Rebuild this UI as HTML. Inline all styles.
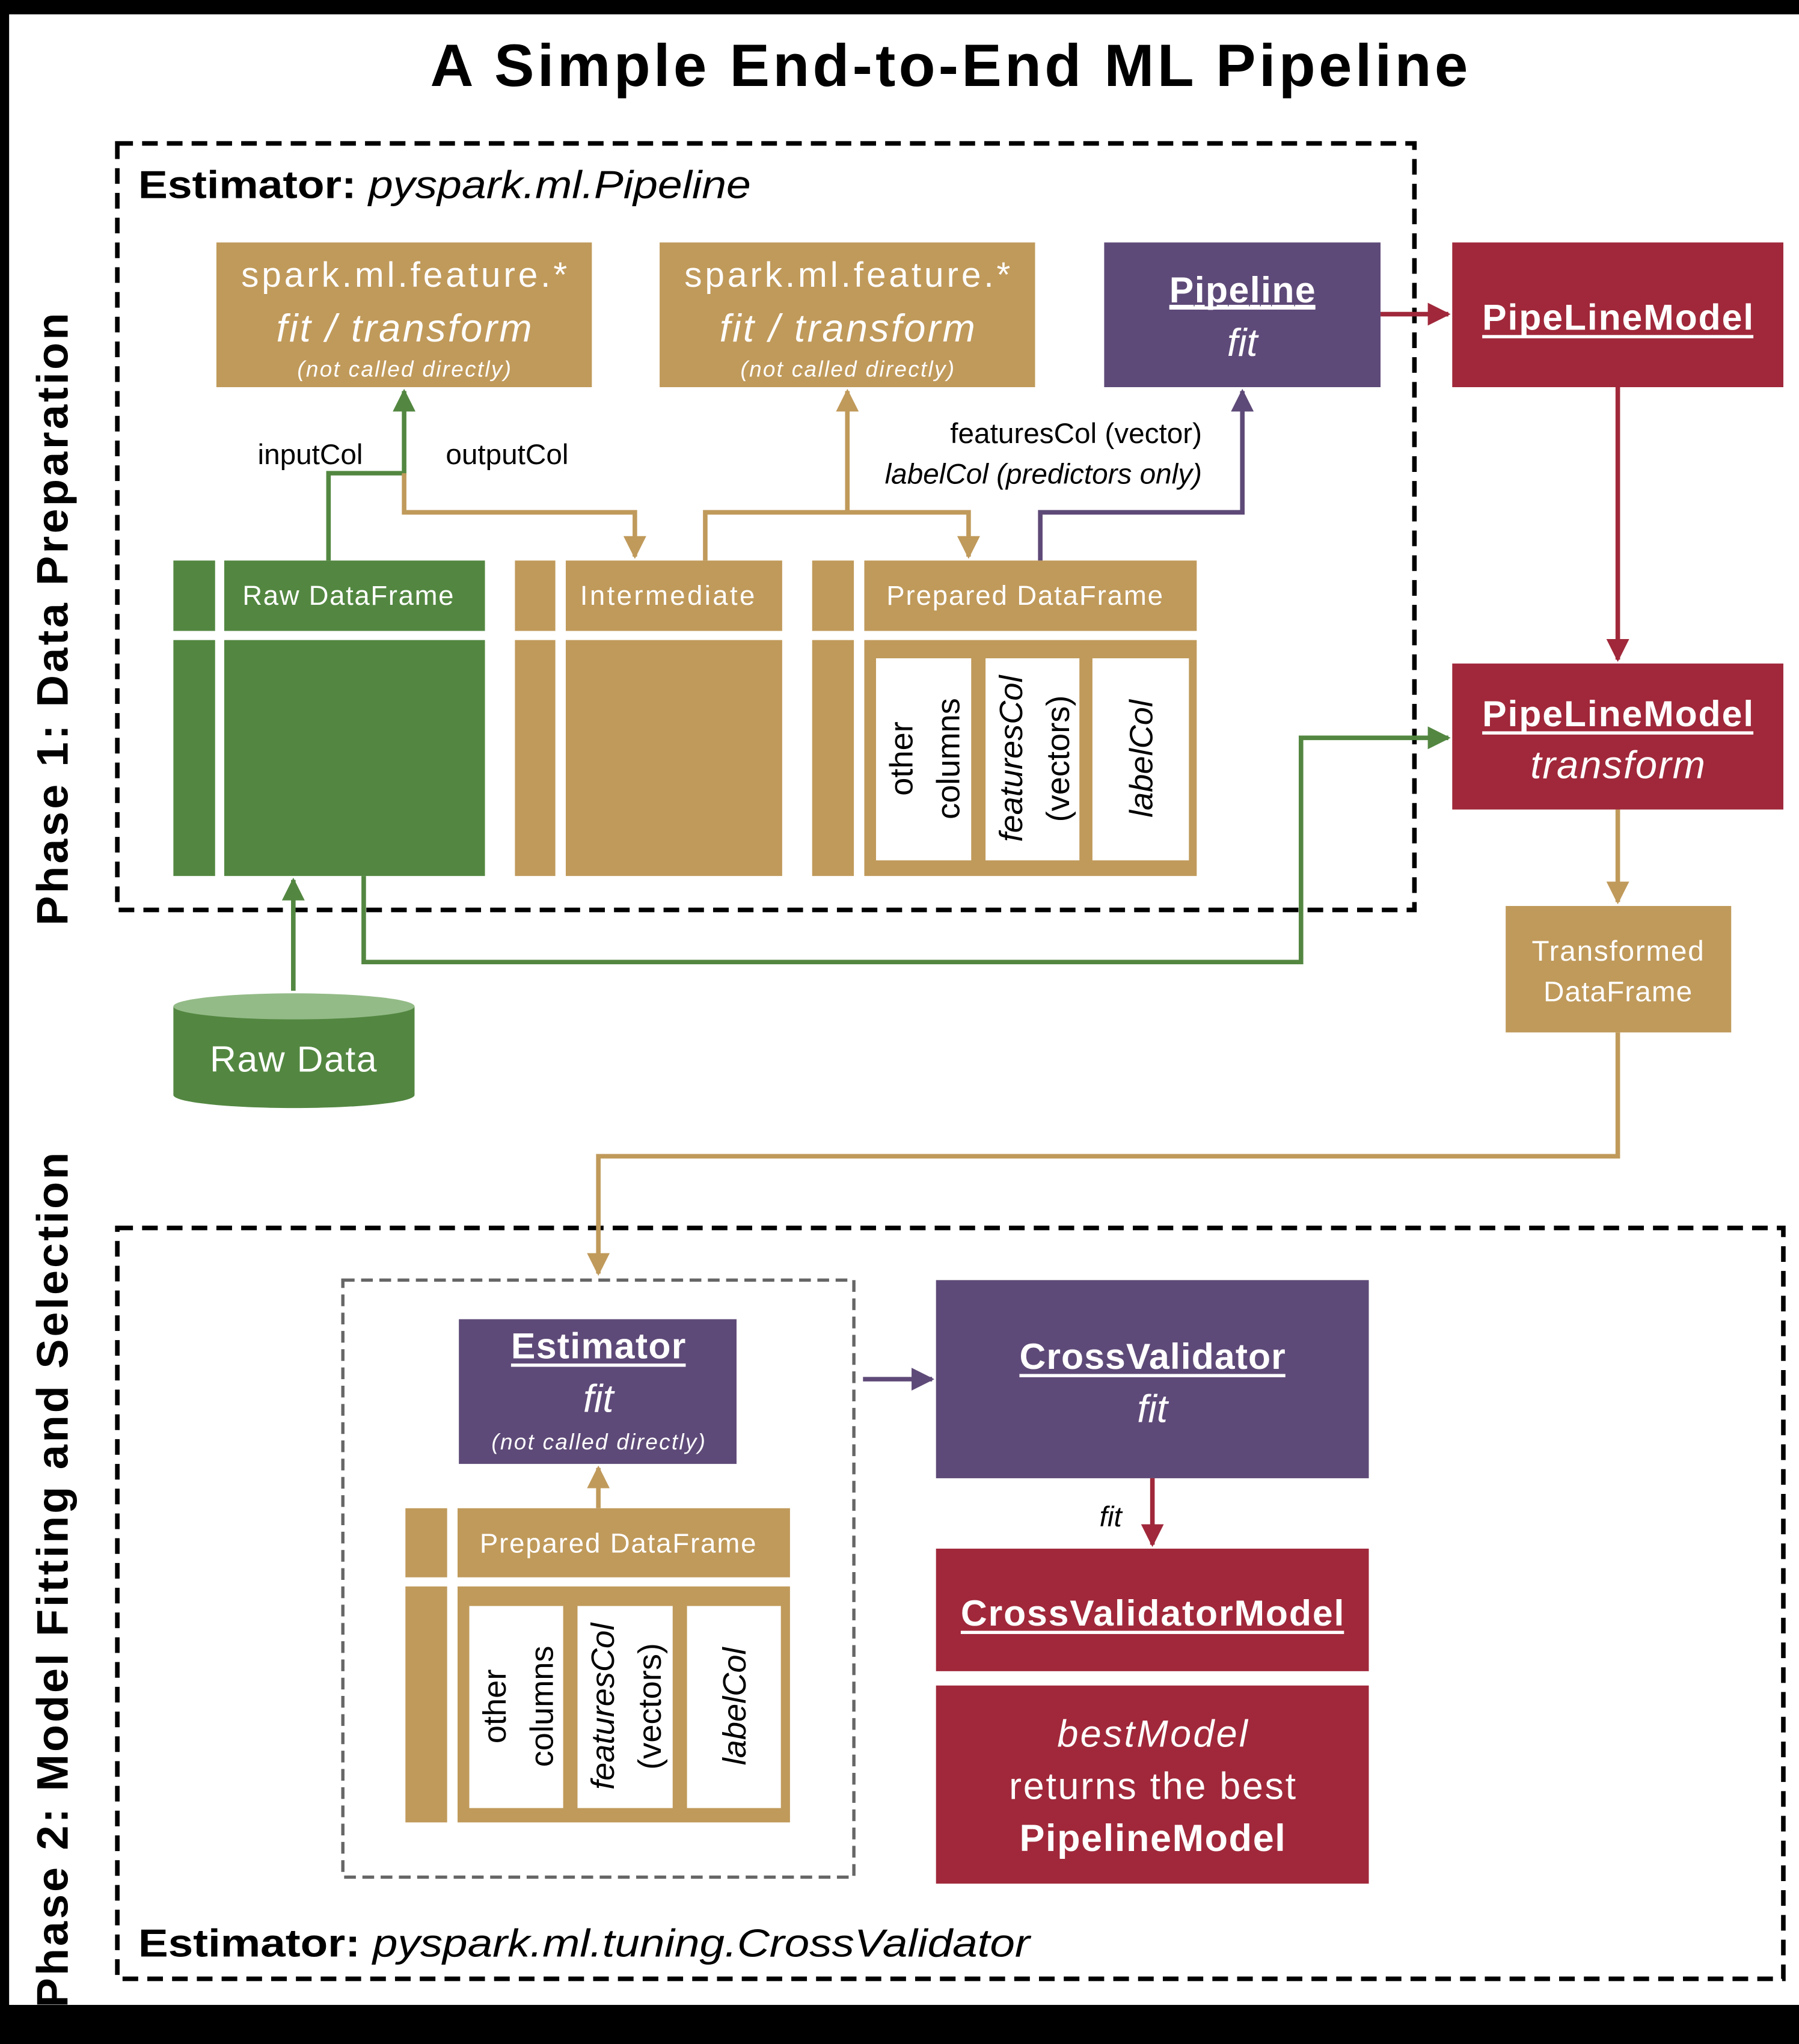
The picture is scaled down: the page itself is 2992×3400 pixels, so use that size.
<!DOCTYPE html>
<html><head><meta charset="utf-8"><style>
html,body{margin:0;padding:0;background:#fff}
svg{display:block}
text{font-family:"Liberation Sans",sans-serif}
.w{fill:#fff}
.c{text-anchor:middle}
</style></head><body>
<svg width="2992" height="3400" viewBox="0 0 1380 1568" preserveAspectRatio="none" xmlns="http://www.w3.org/2000/svg">
<defs>
<marker id="ag" markerWidth="5" markerHeight="5" refX="4.5" refY="2.5" orient="auto" markerUnits="strokeWidth"><path d="M0,0L5,2.5L0,5z" fill="#538741"/></marker>
<marker id="at" markerWidth="5" markerHeight="5" refX="4.5" refY="2.5" orient="auto" markerUnits="strokeWidth"><path d="M0,0L5,2.5L0,5z" fill="#C09A5B"/></marker>
<marker id="ap" markerWidth="5" markerHeight="5" refX="4.5" refY="2.5" orient="auto" markerUnits="strokeWidth"><path d="M0,0L5,2.5L0,5z" fill="#5E4A78"/></marker>
<marker id="ar" markerWidth="5" markerHeight="5" refX="4.5" refY="2.5" orient="auto" markerUnits="strokeWidth"><path d="M0,0L5,2.5L0,5z" fill="#A0283A"/></marker>
</defs>
<rect x="0" y="0" width="1380" height="1568" fill="#fff"/>
<rect x="0" y="0" width="1380" height="11" fill="#000"/>
<rect x="0" y="0" width="7" height="1568" fill="#000"/>
<rect x="0" y="1538" width="1380" height="30" fill="#000"/>

<text x="728" y="66" class="c" font-size="46" font-weight="bold" textLength="796">A Simple End-to-End ML Pipeline</text>

<text transform="translate(52,475) rotate(-90)" class="c" font-size="34" font-weight="bold" textLength="470">Phase 1: Data Preparation</text>
<text transform="translate(52,1212) rotate(-90)" class="c" font-size="34" font-weight="bold" textLength="656">Phase 2: Model Fitting and Selection</text>

<rect x="90" y="110" width="995" height="588" fill="none" stroke="#000" stroke-width="3.5" stroke-dasharray="12,7"/>
<text x="106" y="152" font-size="30" textLength="470" lengthAdjust="spacingAndGlyphs"><tspan font-weight="bold">Estimator: </tspan><tspan font-style="italic">pyspark.ml.Pipeline</tspan></text>

<rect x="90" y="942" width="1278" height="576" fill="none" stroke="#000" stroke-width="3.5" stroke-dasharray="12,7"/>
<text x="106" y="1501" font-size="30" textLength="684" lengthAdjust="spacingAndGlyphs"><tspan font-weight="bold">Estimator: </tspan><tspan font-style="italic">pyspark.ml.tuning.CrossValidator</tspan></text>

<rect x="166" y="186" width="288" height="111" fill="#C09A5B"/>
<text x="310" y="220" class="c w" font-size="27" textLength="250">spark.ml.feature.*</text>
<text x="310" y="262" class="c w" font-size="30" font-style="italic" textLength="196">fit / transform</text>
<text x="310" y="289" class="c w" font-size="17" font-style="italic" textLength="164">(not called directly)</text>
<rect x="506" y="186" width="288" height="111" fill="#C09A5B"/>
<text x="650" y="220" class="c w" font-size="27" textLength="250">spark.ml.feature.*</text>
<text x="650" y="262" class="c w" font-size="30" font-style="italic" textLength="196">fit / transform</text>
<text x="650" y="289" class="c w" font-size="17" font-style="italic" textLength="164">(not called directly)</text>

<rect x="847" y="186" width="212" height="111" fill="#5E4A78"/>
<text x="953" y="232" class="c w" font-size="28" font-weight="bold" text-decoration="underline" textLength="112">Pipeline</text>
<rect x="897" y="235" width="112" height="2.5" fill="#fff"/>
<text x="953" y="273" class="c w" font-size="30" font-style="italic">fit</text>

<rect x="1114" y="186" width="254" height="111" fill="#A0283A"/>
<text x="1241" y="253" class="c w" font-size="28" font-weight="bold" textLength="208">PipeLineModel</text>
<rect x="1137" y="257" width="208" height="2.5" fill="#fff"/>

<rect x="1114" y="509" width="254" height="112" fill="#A0283A"/>
<text x="1241" y="557" class="c w" font-size="28" font-weight="bold" textLength="208">PipeLineModel</text>
<rect x="1137" y="561" width="208" height="2.5" fill="#fff"/>
<text x="1241" y="597" class="c w" font-size="30" font-style="italic" textLength="134">transform</text>

<rect x="1155" y="695" width="173" height="97" fill="#C09A5B"/>
<text x="1241" y="737" class="c w" font-size="22" textLength="132">Transformed</text>
<text x="1241" y="768" class="c w" font-size="22" textLength="114">DataFrame</text>

<rect x="133" y="430" width="32" height="54" fill="#538741"/>
<rect x="133" y="491" width="32" height="181" fill="#538741"/>
<rect x="172" y="430" width="200" height="54" fill="#538741"/>
<rect x="172" y="491" width="200" height="181" fill="#538741"/>
<text x="267" y="464" class="c w" font-size="21" textLength="162">Raw DataFrame</text>

<rect x="395" y="430" width="31" height="54" fill="#C09A5B"/>
<rect x="395" y="491" width="31" height="181" fill="#C09A5B"/>
<rect x="434" y="430" width="166" height="54" fill="#C09A5B"/>
<rect x="434" y="491" width="166" height="181" fill="#C09A5B"/>
<text x="512" y="464" class="c w" font-size="21" textLength="134">Intermediate</text>

<rect x="623" y="430" width="32" height="54" fill="#C09A5B"/>
<rect x="623" y="491" width="32" height="181" fill="#C09A5B"/>
<rect x="663" y="430" width="255" height="54" fill="#C09A5B"/>
<rect x="663" y="491" width="255" height="181" fill="#C09A5B"/>
<text x="786" y="464" class="c w" font-size="21" textLength="212">Prepared DataFrame</text>
<rect x="672" y="505" width="73" height="155" fill="#fff"/>
<rect x="756" y="505" width="72" height="155" fill="#fff"/>
<rect x="838" y="505" width="74" height="155" fill="#fff"/>
<text transform="translate(700,582) rotate(-90)" class="c" font-size="25" font-family="DejaVu Sans">other</text>
<text transform="translate(736,582) rotate(-90)" class="c" font-size="25" font-family="DejaVu Sans">columns</text>
<text transform="translate(784,582) rotate(-90)" class="c" font-size="25" font-style="italic" font-family="DejaVu Sans">featuresCol</text>
<text transform="translate(820,582) rotate(-90)" class="c" font-size="25" font-family="DejaVu Sans">(vectors)</text>
<text transform="translate(884,582) rotate(-90)" class="c" font-size="25" font-style="italic" font-family="DejaVu Sans">labelCol</text>

<path d="M133,772 L133,840 A92.5,10 0 0 0 318,840 L318,772 Z" fill="#538741"/>
<ellipse cx="225.5" cy="772" rx="92.5" ry="10" fill="#93BB87"/>
<text x="225" y="822" class="c w" font-size="28" textLength="128">Raw Data</text>

<text x="238" y="356" class="c" font-size="22">inputCol</text>
<text x="389" y="356" class="c" font-size="22">outputCol</text>
<text x="922" y="340" font-size="22" text-anchor="end">featuresCol (vector)</text>
<text x="922" y="371" font-size="22" text-anchor="end" font-style="italic">labelCol (predictors only)</text>

<g fill="none" stroke-width="3.5">
<path d="M252,430 V363 H310 V300" stroke="#538741" marker-end="url(#ag)"/>
<path d="M310,363 V393 H487 V427" stroke="#C09A5B" marker-end="url(#at)"/>
<path d="M541,430 V393 H743 V427" stroke="#C09A5B" marker-end="url(#at)"/>
<path d="M650,393 V300" stroke="#C09A5B" marker-end="url(#at)"/>
<path d="M798,430 V393 H953 V300" stroke="#5E4A78" marker-end="url(#ap)"/>
<path d="M1059,241 H1111" stroke="#A0283A" marker-end="url(#ar)"/>
<path d="M1241,297 V506" stroke="#A0283A" marker-end="url(#ar)"/>
<path d="M1241,621 V692" stroke="#C09A5B" marker-end="url(#at)"/>
<path d="M225,760 V675" stroke="#538741" marker-end="url(#ag)"/>
<path d="M279,672 V738 H998 V566 H1111" stroke="#538741" marker-end="url(#ag)"/>
<path d="M1241,792 V887 H459 V977" stroke="#C09A5B" marker-end="url(#at)"/>
</g>

<rect x="263" y="982" width="392" height="458" fill="none" stroke="#666" stroke-width="2.5" stroke-dasharray="9,5"/>
<rect x="352" y="1012" width="213" height="111" fill="#5E4A78"/>
<text x="459" y="1042" class="c w" font-size="28" font-weight="bold" textLength="134">Estimator</text>
<rect x="392" y="1046" width="134" height="2.5" fill="#fff"/>
<text x="459" y="1083" class="c w" font-size="30" font-style="italic">fit</text>
<text x="459" y="1112" class="c w" font-size="17" font-style="italic" textLength="164">(not called directly)</text>

<rect x="311" y="1157" width="32" height="53" fill="#C09A5B"/>
<rect x="311" y="1217" width="32" height="181" fill="#C09A5B"/>
<rect x="351" y="1157" width="255" height="53" fill="#C09A5B"/>
<rect x="351" y="1217" width="255" height="181" fill="#C09A5B"/>
<text x="474" y="1191" class="c w" font-size="21" textLength="212">Prepared DataFrame</text>
<rect x="360" y="1232" width="72" height="155" fill="#fff"/>
<rect x="443" y="1232" width="73" height="155" fill="#fff"/>
<rect x="527" y="1232" width="72" height="155" fill="#fff"/>
<text transform="translate(388,1309) rotate(-90)" class="c" font-size="25" font-family="DejaVu Sans">other</text>
<text transform="translate(424,1309) rotate(-90)" class="c" font-size="25" font-family="DejaVu Sans">columns</text>
<text transform="translate(471,1309) rotate(-90)" class="c" font-size="25" font-style="italic" font-family="DejaVu Sans">featuresCol</text>
<text transform="translate(507,1309) rotate(-90)" class="c" font-size="25" font-family="DejaVu Sans">(vectors)</text>
<text transform="translate(572,1309) rotate(-90)" class="c" font-size="25" font-style="italic" font-family="DejaVu Sans">labelCol</text>

<rect x="718" y="982" width="332" height="152" fill="#5E4A78"/>
<text x="884" y="1050" class="c w" font-size="28" font-weight="bold" textLength="204">CrossValidator</text>
<rect x="782" y="1054" width="204" height="2.5" fill="#fff"/>
<text x="884" y="1091" class="c w" font-size="30" font-style="italic">fit</text>

<rect x="718" y="1188" width="332" height="94" fill="#A0283A"/>
<text x="884" y="1247" class="c w" font-size="28" font-weight="bold" textLength="294">CrossValidatorModel</text>
<rect x="737" y="1251" width="294" height="2.5" fill="#fff"/>

<rect x="718" y="1293" width="332" height="152" fill="#A0283A"/>
<text x="884" y="1340" class="c w" font-size="29" font-style="italic" textLength="146">bestModel</text>
<text x="884" y="1380" class="c w" font-size="29" textLength="220">returns the best</text>
<text x="884" y="1420" class="c w" font-size="29" font-weight="bold" textLength="204">PipelineModel</text>

<text x="852" y="1171" class="c" font-size="22" font-style="italic">fit</text>

<g fill="none" stroke-width="3.5">
<path d="M459,1157 V1126" stroke="#C09A5B" marker-end="url(#at)"/>
<path d="M662,1058 H715" stroke="#5E4A78" marker-end="url(#ap)"/>
<path d="M884,1134 V1185" stroke="#A0283A" marker-end="url(#ar)"/>
</g>
</svg>
</body></html>
